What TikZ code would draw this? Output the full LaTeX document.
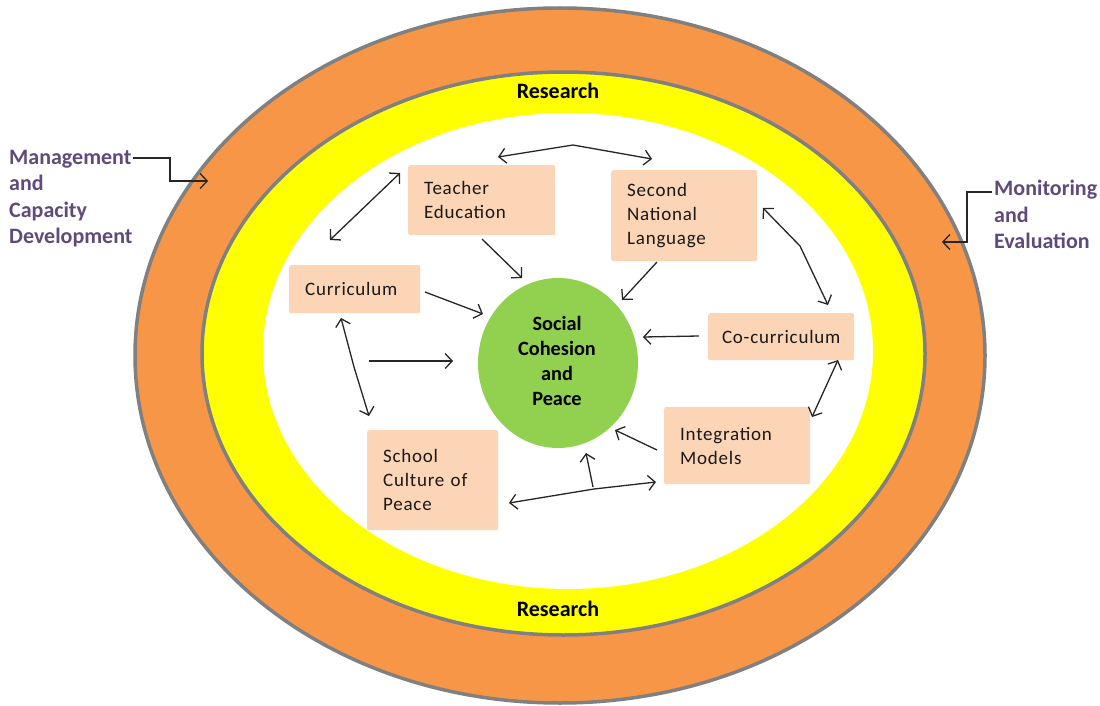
\documentclass[tikz,border=0pt]{standalone}
\usepackage{fontspec}
\setmainfont{Carlito}
\newfontfamily\boxfont[LetterSpace=4]{Carlito}
\usetikzlibrary{arrows.meta,shapes.geometric}
\definecolor{ringorange}{HTML}{F79646}
\definecolor{ringyellow}{HTML}{FFFF00}
\definecolor{ringedge}{HTML}{808080}
\definecolor{boxfill}{HTML}{FBD5B5}
\definecolor{corefill}{HTML}{92D050}
\definecolor{labelpurple}{HTML}{604A7B}
\begin{document}
\begin{tikzpicture}[x=1pt,y=-1pt,
  stepbox/.style={fill=boxfill, rounded corners=2pt, anchor=north west, align=left,
    inner xsep=16pt, inner ysep=0pt, font=\boxfont\fontsize{19}{24}\selectfont, text=black!90},
  sidelabel/.style={anchor=north west, align=left, inner sep=0pt, text=labelpurple,
    font=\bfseries\fontsize{22}{26.5}\selectfont},
  ringtitle/.style={font=\bfseries\fontsize{22}{24}\selectfont, inner sep=0pt},
  barb/.tip={Straight Barb[length=7pt,width=15pt]},
  link/.style={draw=black!85, line width=1.3pt, -barb},
  dlink/.style={link, barb-barb}]
\useasboundingbox (0,0) rectangle (1100,706);
\fill[white] (0,0) rectangle (1100,706);

% concentric rings
\filldraw[fill=ringorange, draw=ringedge, line width=3.5pt] (560,355.5) ellipse [x radius=425pt, y radius=347.5pt];
\filldraw[fill=ringyellow, draw=ringedge, line width=3.5pt] (563.5,353.5) ellipse [x radius=361.5pt, y radius=281.5pt];
\fill[white] (568,351) ellipse [x radius=305pt, y radius=238pt];

\node[ringtitle] (rtop) at (558,91) {Research};
\node[ringtitle] (rbot) at (558,609) {Research};

% core
\node[ellipse, fill=corefill, minimum width=160pt, minimum height=170pt, inner sep=0pt] (core) at (558,363) {};
\node[align=center, inner sep=0pt, font=\bfseries\fontsize{20.3}{25}\selectfont] (coretext) at (557,360.5)
  {Social\\Cohesion\\and\\Peace};

% component boxes
\node[stepbox, text width=115pt, minimum height=70pt] (te) at (408,165) {Teacher\\Education};
\node[stepbox, text width=114pt, minimum height=91pt] (snl) at (611,170) {Second\\National\\Language};
\node[stepbox, text width=99pt, minimum height=48pt] (cur) at (289,265) {Curriculum};
\node[stepbox, text width=126pt, inner xsep=10pt, align=center, minimum height=47pt] (cocur) at (708,313) {\mbox{Co-curriculum}};
\node[stepbox, text width=114pt, minimum height=77pt] (integ) at (664,407) {Integration\\Models};
\node[stepbox, text width=99pt, minimum height=100pt] (school) at (367,430) {School\\Culture of\\Peace};

% outer labels
\node[sidelabel] (mgmt) at (9,150) {Management\\and\\Capacity\\Development};
\node[sidelabel] (mon) at (994,180) {Monitoring\\and\\Evaluation};

% connector end points
\coordinate (mgmtA) at (133,158);
\coordinate (mgmtB) at (170,158);
\coordinate (mgmtC) at (170,181);
\coordinate (mgmtD) at (208,181);
\coordinate (monA) at (992,192);
\coordinate (monB) at (967,192);
\coordinate (monC) at (967,242);
\coordinate (monD) at (942,242);

\coordinate (topL) at (498,157);
\coordinate (topM) at (573,145);
\coordinate (topR) at (652,159);
\coordinate (tcU) at (400,173);
\coordinate (tcL) at (330,240);
\coordinate (teA) at (482,239);
\coordinate (teB) at (522,278);
\coordinate (snA) at (657,262);
\coordinate (snB) at (622,300);
\coordinate (scU) at (763,208);
\coordinate (scM) at (800,246);
\coordinate (scL) at (828,305);
\coordinate (ciU) at (838,360);
\coordinate (ciL) at (812,417);
\coordinate (ccA) at (699,336);
\coordinate (ccB) at (643,337);
\coordinate (cuA) at (425,292);
\coordinate (cuB) at (483,314);
\coordinate (csU) at (341,318);
\coordinate (csM) at (354,367);
\coordinate (csL) at (369,416);
\coordinate (flA) at (369,361);
\coordinate (flB) at (453,361);
\coordinate (inA) at (657,450);
\coordinate (inB) at (615,430);
\coordinate (btL) at (509,503);
\coordinate (btM) at (594,489);
\coordinate (btR) at (656,482);
\coordinate (upA) at (593,487);
\coordinate (upB) at (586,453);

% outer label pointers
\draw[link] (mgmtA) -- (mgmtB) -- (mgmtC) -- (mgmtD);
\draw[link] (monA) -- (monB) -- (monC) -- (monD);

% links between components
\draw[dlink] (topL) -- (topM) -- (topR);
\draw[dlink] (tcU) -- (tcL);
\draw[dlink] (scU) -- (scM) -- (scL);
\draw[dlink] (ciU) -- (ciL);
\draw[dlink] (csU) -- (csM) -- (csL);
\draw[dlink] (btL) -- (btM) -- (btR);

% links into the core
\draw[link] (teA) -- (teB);
\draw[link] (snA) -- (snB);
\draw[link] (ccA) -- (ccB);
\draw[link] (cuA) -- (cuB);
\draw[link] (flA) -- (flB);
\draw[link] (inA) -- (inB);
\draw[link] (upA) -- (upB);
\end{tikzpicture}
\end{document}
